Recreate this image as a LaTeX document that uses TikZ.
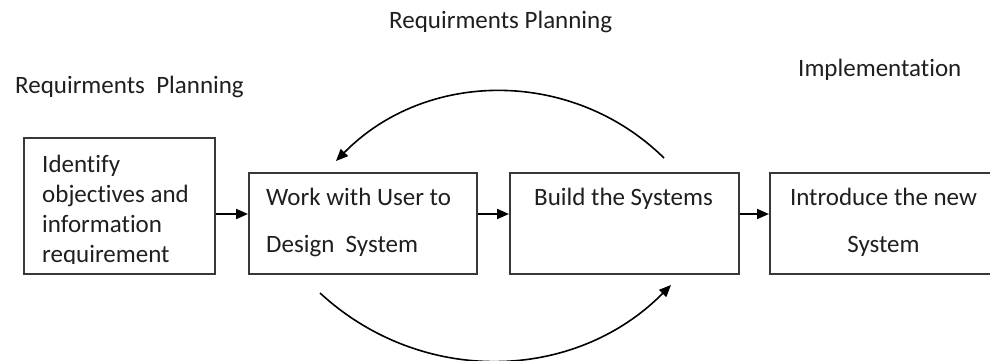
\documentclass[tikz,border=0pt]{standalone}
\usepackage{fontspec}
\setmainfont{Carlito}[Ligatures=NoCommon]
\usetikzlibrary{arrows.meta}
\begin{document}
\begin{tikzpicture}[x=1pt,y=-1pt,
    box/.style={draw=black!78,line width=1.6pt,anchor=north west,inner sep=0pt},
    txt/.style={anchor=base west,inner sep=0pt,text=black!88,font=\fontsize{25}{30}\selectfont},
    ctxt/.style={txt,anchor=base},
    flow/.style={-{Triangle[length=12pt,width=10pt]},line width=2pt},
    loop/.style={-{Triangle[length=12pt,width=10pt]},line width=1.6pt}]
  \useasboundingbox (0,0) rectangle (990,361);
  % phase labels
  \node[txt] (plantop) at (389,29) {Requirments Planning};
  \node[txt] (planleft) at (15,93) {Requirments\ \ Planning};
  \node[txt] (impl) at (798,77) {Implementation};
  % boxes
  \node[box,minimum width=191pt,minimum height=136pt] (ident) at (23,137) {};
  \node[box,minimum width=228pt,minimum height=101pt] (work) at (248,172) {};
  \node[box,minimum width=229pt,minimum height=101pt] (build) at (509,172) {};
  \node[box,minimum width=229pt,minimum height=101pt] (intro) at (769,172) {};
  % text of the boxes
  \begin{scope}
    \clip (23,137) rectangle (214,263);
    \foreach \line [count=\i] in {Identify,objectives and,information,requirement}
      \node[txt] (ident-\i) at (42,142+30*\i) {\line};
  \end{scope}
  \node[txt] (work-1) at (266,205) {Work with User to};
  \node[txt] (work-2) at (266,252) {Design\ \ System};
  \node[ctxt] (build-1) at (623.5,205) {Build the Systems};
  \node[ctxt] (intro-1) at (883.5,205) {Introduce the new};
  \node[ctxt] (intro-2) at (883.5,252) {System};
  % flow
  \draw[flow] (ident.east |- 0,214) -- (work.west |- 0,214);
  \draw[flow] (work.east |- 0,214) -- (build.west |- 0,214);
  \draw[flow] (build.east |- 0,214) -- (intro.west |- 0,214);
  % loops
  \coordinate (topfrom) at (664,158);
  \coordinate (topto) at (336,161);
  \coordinate (botfrom) at (320,293);
  \coordinate (botto) at (671,285);
  \draw[loop] (topfrom) to[bend right=45] (topto);
  \draw[loop] (botfrom) to[bend right=44] (botto);
\end{tikzpicture}
\end{document}
